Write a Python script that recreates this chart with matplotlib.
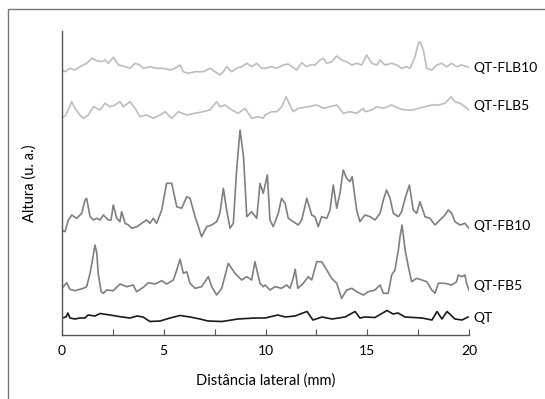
import numpy as np
import matplotlib
matplotlib.use("Agg")
import matplotlib.pyplot as plt
from matplotlib.patches import Rectangle

plt.rcParams['font.family'] = ['Lato', 'DejaVu Sans']

# perfis (x em mm, altura em u. a.)
qt_x = [0.00, 0.20, 0.29, 0.39, 0.64, 0.88, 1.13, 1.28, 1.62, 1.87, 2.36, 2.95, 3.34, 3.69, 3.98,
        4.32, 4.82, 5.31, 5.80, 6.29, 6.78, 7.17, 7.86, 8.65, 9.48, 9.98, 10.61, 10.96, 11.45, 12.04,
        12.33, 12.78, 13.27, 13.91, 14.40, 14.64, 14.89, 15.38, 15.97, 16.27, 16.51, 16.86, 17.69,
        18.18, 18.43, 18.67, 18.92, 19.31, 19.66, 19.95]
qt_y = [17, 18, 22, 17, 16, 17, 17, 20, 19, 21.5, 20, 18, 17, 19, 18,
        13.5, 14, 17, 19.5, 18, 16, 14, 13.5, 16, 17, 17, 20, 18, 19, 23.5,
        15, 18, 16, 18, 23.5, 17, 18, 17.5, 24.5, 21, 22, 18, 17,
        15, 23.5, 16, 23.5, 16, 15, 18]

fb5_x = [0.00, 0.23, 0.39, 0.64, 1.05, 1.21, 1.38, 1.54, 1.62, 1.71, 1.78, 1.92, 2.03, 2.20, 2.52,
         2.85, 3.18, 3.50, 3.67, 4.00, 4.24, 4.57, 4.90, 5.14, 5.47, 5.64, 5.80, 5.96, 6.13, 6.29,
         6.54, 6.86, 7.19, 7.36, 7.60, 7.85, 8.17, 8.50, 8.83, 9.08, 9.32, 9.48, 9.73, 9.89, 9.98,
         10.22, 10.47, 10.78, 11.04, 11.20, 11.34, 11.46, 11.59, 11.86, 12.10, 12.27, 12.52, 12.76,
         13.01, 13.25, 13.50, 13.74, 13.99, 14.24, 14.48, 14.81, 15.05, 15.38, 15.63, 15.79, 16.03,
         16.20, 16.36, 16.53, 16.61, 16.71, 16.86, 17.02, 17.18, 17.43, 17.68, 17.92, 18.17, 18.33,
         18.49, 18.82, 19.15, 19.39, 19.47, 19.64, 19.80, 19.88, 20.00]
fb5_y = [46.7, 52.3, 45.7, 44.3, 46.7, 48.3, 61.7, 80, 90, 81.7, 61.7, 43.3, 41.7, 45, 44.3,
         51, 48.3, 50, 43.3, 47.7, 52.3, 51, 54.3, 51, 55, 65, 75.7, 61.7, 63.3, 51.7,
         46.7, 48.3, 58.3, 48.3, 40, 46.7, 71.7, 61.7, 55, 58.3, 55, 73.3, 51.7, 48.3, 50,
         45, 48.3, 46.7, 50, 46.7, 55, 65.7, 46.7, 51.7, 58.3, 55, 73.3, 73.3,
         65, 56.7, 51.7, 36.7, 45, 46.7, 43.3, 40, 43.3, 45, 50, 41.7, 41.7,
         60, 65, 85, 98.3, 110, 85, 68.3, 53.3, 56.7, 55, 53.3, 45, 41.7,
         51.7, 51.7, 50, 53.3, 60, 58.3, 60, 51.7, 45]

fb10_x = [0.00, 0.15, 0.31, 0.48, 0.72, 0.97, 1.13, 1.21, 1.38, 1.54, 1.71, 1.87, 2.03, 2.28, 2.41,
          2.52, 2.69, 2.85, 2.93, 3.10, 3.26, 3.43, 3.67, 3.92, 4.16, 4.32, 4.49, 4.65, 4.90, 5.14,
          5.39, 5.64, 5.88, 6.13, 6.29, 6.54, 6.70, 6.86, 7.11, 7.36, 7.60, 7.76, 7.93, 8.09, 8.26,
          8.42, 8.58, 8.75, 8.92, 9.08, 9.32, 9.57, 9.73, 9.89, 10.09, 10.22, 10.38, 10.63, 10.79,
          10.96, 11.12, 11.37, 11.61, 11.78, 12.03, 12.27, 12.43, 12.59, 12.76, 13.01, 13.17, 13.33,
          13.50, 13.66, 13.82, 13.99, 14.15, 14.26, 14.48, 14.64, 14.89, 15.14, 15.38, 15.63, 15.79,
          15.95, 16.12, 16.28, 16.53, 16.69, 16.86, 17.07, 17.26, 17.43, 17.59, 17.84, 18.08, 18.33,
          18.57, 18.82, 18.98, 19.15, 19.31, 19.56, 19.80, 20.00]
fb10_y = [105, 103.3, 115, 120, 116.7, 121.7, 135, 136.7, 118.3, 115, 116.7, 115, 120, 115, 115,
          130, 116.7, 113.3, 123.3, 111.7, 110, 106.7, 108.3, 111.7, 115, 111.7, 116.7, 111.7, 125, 151.7,
          151.7, 128.3, 126.7, 138.3, 136.7, 118.3, 108.3, 98.3, 108.3, 110, 113.3, 121.7, 146.7, 125, 106.7,
          111.7, 165, 205, 178.3, 118.3, 123.3, 116.7, 151.7, 141.7, 160, 115, 108.3, 121.7, 136.7,
          131.7, 116.7, 113.3, 110, 115, 136.7, 120, 118.3, 108.3, 118.3, 116.7, 125, 150,
          126.7, 141.7, 165, 156.7, 153.3, 158.3, 125, 113.3, 120, 118.3, 115, 121.7, 135,
          145, 136.7, 121.7, 118.3, 123.3, 136.7, 150, 125, 121.7, 133.3, 118.3, 116.7, 110,
          115, 120, 125, 121.7, 113.3, 110, 111.7, 106.7]

flb5_x = [0.00, 0.15, 0.31, 0.48, 0.64, 0.88, 1.05, 1.29, 1.54, 1.87, 2.11, 2.36, 2.60, 2.85, 3.01,
          3.34, 3.59, 3.83, 4.16, 4.48, 4.82, 5.06, 5.39, 5.72, 6.13, 6.54, 6.94, 7.27, 7.60, 7.76,
          8.01, 8.34, 8.66, 8.99, 9.32, 9.65, 9.89, 9.98, 10.30, 10.55, 10.80, 11.01, 11.20, 11.37,
          11.61, 12.10, 12.52, 12.84, 13.17, 13.50, 13.82, 14.15, 14.48, 14.81, 14.89, 15.22, 15.47,
          15.79, 16.20, 16.53, 16.86, 17.26, 17.51, 17.84, 18.17, 18.49, 18.82, 19.12, 19.31, 19.56,
          19.80, 20.00]
flb5_y = [217.7, 219, 225, 233.3, 226.7, 220, 216.7, 220, 228.3, 225, 231.7, 228.3, 230, 233.3, 228.3,
          233.3, 226.7, 218.3, 220, 216.7, 220, 223.3, 216.7, 223.3, 220, 221.7, 223.3, 225, 233.3, 228.3,
          230, 225, 221.7, 226.7, 216.7, 218.3, 216.7, 220, 223.3, 223.3, 228.3, 238.3, 230, 223.3,
          226.7, 228.3, 230, 226.7, 228.3, 230, 221.7, 223.3, 221.7, 226.7, 223.3, 225, 228.3,
          226.7, 230, 226.7, 225, 225, 226.7, 228.3, 230, 230, 231.7, 238.3, 233.3, 231.7,
          228.3, 225]

flb10_x = [0.00, 0.15, 0.39, 0.64, 0.88, 1.21, 1.46, 1.71, 1.95, 2.11, 2.28, 2.52, 2.77, 3.10, 3.34,
           3.59, 3.83, 4.00, 4.32, 4.65, 4.98, 5.31, 5.55, 5.80, 5.96, 6.21, 6.54, 6.94, 7.27, 7.52,
           7.76, 7.93, 8.09, 8.34, 8.58, 8.83, 9.08, 9.32, 9.57, 9.81, 9.98, 10.30, 10.55, 10.87,
           11.12, 11.29, 11.53, 11.78, 12.02, 12.19, 12.43, 12.68, 12.84, 13.01, 13.25, 13.50, 13.74,
           13.99, 14.24, 14.48, 14.73, 14.97, 15.22, 15.47, 15.63, 15.87, 16.20, 16.45, 16.69, 16.94,
           17.10, 17.35, 17.51, 17.59, 17.76, 17.92, 18.17, 18.41, 18.66, 18.90, 19.15, 19.39, 19.64,
           19.88, 20.00]
flb10_y = [265.7, 263.3, 266.7, 265, 268.3, 271.7, 276.7, 274.3, 273.3, 275, 271.7, 277.7, 270, 268.3, 266.7,
           271.7, 270, 266.7, 268.3, 266.7, 266.7, 265, 266.7, 270, 263.3, 261.7, 263.3, 263.3, 266.7, 263.3,
           260, 263.3, 268.3, 263.3, 266.7, 268.3, 271.7, 268.3, 271.7, 266.7, 266.7, 268.3, 266.7, 270,
           271, 268.3, 265, 272.3, 268.3, 270, 270, 275, 276.7, 271.7, 273.3, 279, 275,
           273.3, 270, 271.7, 270, 280, 271.7, 270, 275, 270, 271.7, 270, 266.7, 268.3,
           266.7, 278.3, 291.7, 293.3, 285, 266.7, 265, 270, 271.7, 268.3, 271.7, 268.3, 270,
           268.3, 267.7]

series_names = ["QT", "QT-FB5", "QT-FB10", "QT-FLB5", "QT-FLB10"]
label_y = [17, 49, 109, 229, 267]

fig = plt.figure(figsize=(5.45, 3.99), dpi=100)
ax = fig.add_axes([62/545, 1-335/399, (469-62)/545, (335-31)/399])

ax.plot(qt_x, qt_y, color="#1a1a1a", lw=1.2, solid_joinstyle="round")
ax.plot(fb5_x, fb5_y, color="#7f7f7f", lw=1.2, solid_joinstyle="round")
ax.plot(fb10_x, fb10_y, color="#7f7f7f", lw=1.2, solid_joinstyle="round")
ax.plot(flb5_x, flb5_y, color="#bdbdbd", lw=1.2, solid_joinstyle="round")
ax.plot(flb10_x, flb10_y, color="#bdbdbd", lw=1.2, solid_joinstyle="round")

for name, yy in zip(series_names, label_y):
    ax.text(20.2, yy, name, fontsize=10, va="center", ha="left", clip_on=False)

ax.set_xlim(0, 20)
ax.set_ylim(0, 304)
ax.set_xticks([0, 5, 10, 15, 20])
ax.set_xticks([2.5, 7.5, 12.5, 17.5], minor=True)
ax.set_yticks([])
ax.tick_params(axis="x", which="both", direction="in", length=4, width=0.8,
               color="#555555", labelsize=10, pad=7)
ax.spines["top"].set_visible(False)
ax.spines["right"].set_visible(False)
for s in ["left", "bottom"]:
    ax.spines[s].set_color("#555555")
    ax.spines[s].set_linewidth(1)
ax.set_xlabel("Distância lateral (mm)", fontsize=10.5, labelpad=12)
ax.set_ylabel("Altura (u. a.)", fontsize=10.5, labelpad=18)

# moldura
fig.add_artist(Rectangle((8/545, -0.1), 1.2, 1 - 9/399 + 0.1, transform=fig.transFigure,
                         fill=False, edgecolor="#777777", lw=1))

fig.savefig("out.png", dpi=100)
